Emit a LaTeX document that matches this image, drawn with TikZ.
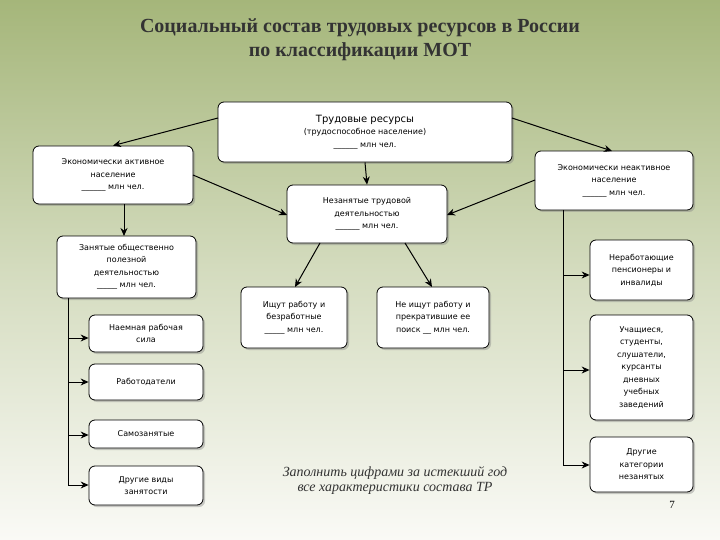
\documentclass[tikz,border=0pt]{standalone}
\usepackage{fontspec}
\setmainfont{Liberation Serif}
\newfontfamily\boxfont{DejaVu Sans}
\usetikzlibrary{shadows,arrows.meta}
\definecolor{bgtop}{RGB}{165,182,122}
\definecolor{bgbot}{RGB}{250,250,246}
\begin{document}
\begin{tikzpicture}[x=1pt,y=-1pt,
  bx/.style={draw=black,line width=0.8pt,rounded corners=6pt,fill=white,drop shadow={opacity=0.4,shadow xshift=2pt,shadow yshift=-2pt},
    font=\boxfont\fontsize{8}{12.5}\selectfont,align=center,inner sep=2pt},
  ar/.style={-{Stealth[length=8pt,width=7pt]},line width=1pt},
  ln/.style={line width=0.8pt}]
\shade[top color=bgtop,bottom color=bgbot,middle color=bgtop!45!bgbot] (0,0) rectangle (720,540);
\useasboundingbox (0,0) rectangle (720,540);
\node[font=\bfseries\fontsize{20}{24}\selectfont,text=black!80,align=center] (title) at (360,40) {Социальный состав трудовых ресурсов в России\\по классификации МОТ};
\newcommand\bxat[6]{\node[bx,minimum width=#4-#2,minimum height=#5-#3] (#1) at ({(#2+#4)/2},{(#3+#5)/2}) {#6};}
\bxat{TR}{218}{102}{512}{162}{{\fontsize{10}{13}\selectfont Трудовые ресурсы}\\(трудоспособное население)\\\_\_\_\_\_\_ млн чел.}
\bxat{EA}{33}{146}{193}{204}{Экономически активное\\население\\\_\_\_\_\_\_ млн чел.}
\bxat{EN}{535}{151}{693}{210}{Экономически неактивное\\население\\\_\_\_\_\_\_ млн чел.}
\bxat{NT}{287}{185}{447}{243}{Незанятые трудовой\\деятельностью\\\_\_\_\_\_\_ млн чел.}
\bxat{ZO}{57}{236}{196}{298}{Занятые общественно\\полезной\\деятельностью\\\_\_\_\_\_ млн чел.}
\bxat{IR}{241}{287}{347}{348}{Ищут работу и\\безработные\\\_\_\_\_\_ млн чел.}
\bxat{NI}{377}{287}{489}{348}{Не ищут работу и\\прекратившие ее\\поиск \_\_ млн чел.}
\bxat{NP}{590}{240}{693}{300}{Неработающие\\пенсионеры и\\инвалиды}
\bxat{NR}{89}{315}{203}{352}{Наемная рабочая\\сила}
\bxat{UC}{590}{315}{693}{420}{Учащиеся,\\студенты,\\слушатели,\\курсанты\\дневных\\учебных\\заведений}
\bxat{RB}{89}{364}{203}{400}{Работодатели}
\bxat{SZ}{89}{420}{203}{448}{Самозанятые}
\bxat{DV}{89}{466}{203}{505}{Другие виды\\занятости}
\bxat{DK}{590}{437}{693}{492}{Другие\\категории\\незанятых}
\draw[ar] (218,118) -- (EA.north);
\draw[ar] (512,118) -- (612,151);
\draw[ar] (TR.south) -- (NT.north);
\draw[ar] (193,175) -- (287,215);
\draw[ar] (535,180) -- (447,215);
\draw[ar] (124,204) -- (124,236);
\draw[ar] (320,243) -- (295,287);
\draw[ar] (405,243) -- (432,287);
\coordinate (zl) at (68,298);
\coordinate (zb) at (68,485);
\draw[ln] (zl) -- (zb);
\foreach \n/\y in {NR/338,RB/382,SZ/435,DV/485}{\draw[ar] (68,\y) -- (\n.west |- 0,\y);}
\coordinate (el) at (563,210);
\coordinate (eb) at (563,465);
\draw[ln] (el) -- (eb);
\foreach \n/\y in {NP/275,UC/370,DK/465}{\draw[ar] (563,\y) -- (\n.west |- 0,\y);}
\node[font=\itshape\fontsize{14}{15}\selectfont,align=center,text=black!80] (note) at (395,481) {Заполнить цифрами за истекший год\\все характеристики состава ТР};
\node[font=\fontsize{11}{12}\selectfont] (pg) at (672,505) {7};
\end{tikzpicture}
\end{document}
